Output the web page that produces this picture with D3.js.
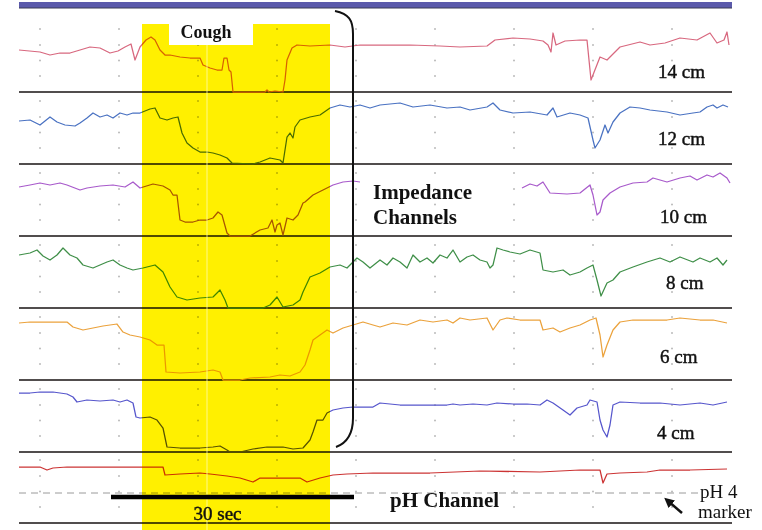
<!DOCTYPE html>
<html>
<head>
<meta charset="utf-8">
<script src="https://cdn.jsdelivr.net/npm/d3@7"></script>
<style>
  body { margin: 0; background: #fff; }
  text { font-family: "Liberation Serif", "Times New Roman", serif; fill: #111; }
</style>
</head>
<body>
<div id="chart"></div>
<script>
// samples (~8 Hz) vs signal level above channel floor
const ch14 = [[0,42],[21,40],[31,37],[41,39],[51,39],[61,42],[71,45],[81,44],[91,39],[99,41],[106,45],[112,48],[116,32],[121,45],[127,52],[132,55],[136,52],[141,42],[146,37],[151,37],[161,35],[171,34],[181,34],[184,27],[191,24],[198,22],[203,22],[205,34],[208,34],[210,22],[212,20],[214,0],[246,0],[248,2],[250,0],[256,1],[264,0],[266,12],[268,32],[273,44],[278,47],[291,46],[311,47],[326,45],[341,47],[361,47],[391,47],[421,46],[441,45],[468,46],[476,52],[494,54],[511,53],[524,51],[529,47],[532,40],[534,59],[537,47],[546,51],[561,52],[568,52],[572,12],[581,35],[588,32],[601,45],[621,50],[631,47],[646,49],[661,54],[678,52],[691,59],[698,49],[705,52],[708,60],[710,47]];
const ch12 = [[0,43],[11,44],[21,39],[31,47],[38,42],[46,39],[56,38],[61,41],[68,46],[74,51],[81,47],[88,49],[94,46],[101,51],[108,49],[114,51],[121,51],[131,55],[136,56],[141,46],[148,44],[154,46],[159,47],[163,31],[168,21],[174,16],[181,12],[188,12],[194,11],[201,9],[208,6],[213,1],[234,0],[241,2],[251,6],[261,4],[264,1],[268,27],[271,31],[274,26],[276,37],[281,44],[291,47],[301,49],[311,56],[321,59],[331,57],[341,59],[351,56],[361,59],[381,61],[394,57],[411,59],[428,56],[441,57],[451,54],[468,57],[474,61],[481,54],[494,51],[511,52],[528,49],[534,56],[538,47],[551,51],[561,49],[569,46],[574,24],[576,16],[581,24],[586,39],[589,31],[594,42],[601,51],[611,57],[621,56],[631,54],[648,52],[661,49],[674,51],[681,52],[688,57],[694,59],[698,56],[704,59],[709,57]];
const ch10 = [[0,49],[11,51],[21,53],[31,51],[41,53],[48,51],[61,46],[68,48],[81,50],[94,51],[106,49],[114,54],[121,48],[134,52],[144,50],[151,46],[154,41],[158,41],[161,16],[166,14],[174,14],[181,16],[188,16],[194,18],[199,24],[203,21],[208,3],[211,0],[231,0],[241,6],[249,8],[253,16],[256,4],[258,11],[261,13],[264,1],[268,18],[274,16],[279,21],[284,33],[286,34],[294,41],[304,46],[314,51],[324,54],[334,55],[341,54],[420,null],[503,48],[511,52],[518,50],[524,54],[531,43],[548,42],[561,43],[571,51],[574,41],[578,21],[581,24],[584,36],[591,43],[601,49],[614,53],[628,54],[634,58],[648,54],[661,58],[671,60],[678,56],[688,61],[694,59],[701,63],[708,58],[711,53]];
const ch8 = [[0,53],[11,55],[18,58],[24,52],[31,48],[38,53],[44,60],[51,53],[58,50],[64,43],[74,40],[81,43],[88,46],[94,48],[101,43],[108,40],[114,38],[124,40],[136,43],[144,36],[151,21],[158,11],[168,8],[181,10],[194,11],[201,18],[206,8],[209,0],[244,0],[251,3],[258,11],[264,1],[274,3],[281,8],[284,16],[291,31],[301,35],[311,41],[321,43],[328,40],[338,50],[344,46],[351,40],[361,48],[368,43],[374,50],[381,46],[388,40],[394,53],[401,46],[408,50],[414,45],[421,53],[428,50],[434,58],[441,46],[448,51],[454,53],[461,48],[468,46],[471,40],[474,43],[478,60],[484,58],[491,56],[501,54],[511,58],[521,55],[524,38],[534,36],[544,38],[551,33],[561,36],[568,40],[574,43],[578,28],[582,12],[588,25],[594,28],[601,36],[614,41],[628,46],[641,50],[651,46],[661,51],[674,46],[681,50],[691,46],[698,50],[704,43],[708,48]];
const ch6 = [[0,57],[11,58],[24,58],[38,58],[48,58],[54,53],[64,50],[74,52],[84,54],[98,56],[104,48],[111,45],[121,43],[131,40],[138,35],[145,35],[147,8],[161,7],[181,8],[194,10],[201,8],[204,0],[221,0],[231,2],[251,3],[261,5],[271,4],[281,8],[286,15],[291,30],[294,40],[301,45],[308,50],[314,47],[324,52],[334,55],[344,58],[354,55],[361,53],[374,57],[388,55],[401,60],[414,58],[428,60],[434,57],[441,62],[451,60],[468,62],[474,50],[481,60],[488,62],[501,60],[521,60],[524,50],[534,52],[541,48],[551,52],[561,55],[571,60],[577,62],[581,45],[584,23],[588,35],[594,50],[601,58],[614,60],[631,60],[648,60],[661,62],[681,60],[694,60],[708,57]];
const ch4 = [[0,59],[11,59],[21,60],[34,60],[48,58],[54,55],[58,50],[68,52],[81,51],[94,52],[101,50],[108,52],[114,49],[117,35],[121,34],[131,35],[138,32],[144,24],[148,5],[161,4],[181,4],[194,5],[201,6],[208,2],[211,0],[221,0],[234,3],[248,5],[264,5],[274,3],[284,4],[291,12],[294,20],[298,32],[304,32],[308,39],[314,42],[324,44],[334,45],[344,45],[354,45],[361,49],[381,47],[408,47],[428,47],[434,48],[441,47],[454,48],[468,47],[478,49],[494,48],[508,48],[521,47],[528,52],[534,49],[544,42],[551,37],[558,44],[568,47],[571,52],[578,50],[581,32],[584,22],[588,15],[591,27],[594,47],[601,50],[621,49],[641,49],[661,47],[681,49],[694,47],[708,50]];
const chPH = [[0,56],[21,56],[28,53],[34,55],[48,56],[81,56],[114,56],[144,56],[146,48],[161,49],[181,50],[191,49],[208,47],[221,45],[234,41],[241,45],[261,45],[281,45],[288,41],[301,45],[314,48],[328,49],[354,50],[361,50],[411,50],[461,52],[521,51],[561,53],[581,53],[584,40],[588,49],[601,50],[628,51],[641,53],[671,53],[708,54]];

const channelNames = ["14 cm", "12 cm", "10 cm", "8 cm", "6 cm", "4 cm", "pH"];
const channelColors = ["#d8687f", "#4a72c2", "#a85acb", "#3f8f48", "#eba23c", "#5656cc", "#cc3434"];
const channelSeries = [ch14, ch12, ch10, ch8, ch6, ch4, chPH];

const gridSamples = [21, 100, 179, 258, 337, 416, 495, 574, 653];
const gridLevels = [16, 31.5, 47, 63];
const coughWindow = [123, 311];
const coughLabelBox = [150, 234];
const cursorSample = 188;
const scaleBar = [92, 335];
const ph4Level = 30;
const ph4Span = [0, 680];

const W = 762, H = 530;
const laneFloor = [92, 164, 236, 308, 380, 452, 523];

const svg = d3.select("#chart").append("svg").attr("width", W).attr("height", H);

const x = d3.scaleLinear().domain([0, 713]).range([19, 732]);
const laneY = laneFloor.map((b) => d3.scaleLinear().domain([0, 72]).range([b, b - 72]));

// top bar
svg.append("rect").attr("x", x(0)).attr("y", 2).attr("width", x(713) - x(0)).attr("height", 6).attr("fill", "#5b5aab");
svg.append("line").attr("x1", x(0)).attr("x2", x(713)).attr("y1", 8).attr("y2", 8).attr("stroke", "#3a3a55").attr("stroke-width", 1);

// dotted grid
const dots = [];
laneY.forEach((ys) => gridSamples.forEach((g) => gridLevels.forEach((l) => dots.push([x(g), ys(l)]))));
svg.append("g").selectAll("rect").data(dots).join("rect")
  .attr("x", (d) => d[0] - 0.8).attr("y", (d) => d[1] - 0.8)
  .attr("width", 1.6).attr("height", 1.6).attr("fill", "#b0b0b0");

// pH 4 marker line
svg.append("line")
  .attr("x1", x(ph4Span[0])).attr("x2", x(ph4Span[1]))
  .attr("y1", laneY[6](ph4Level)).attr("y2", laneY[6](ph4Level))
  .attr("stroke", "#9a9a9a").attr("stroke-width", 1).attr("stroke-dasharray", "7,5");

// channel separators
svg.append("g").selectAll("line").data(laneFloor).join("line")
  .attr("x1", x(0)).attr("x2", x(713)).attr("y1", (d) => d).attr("y2", (d) => d)
  .attr("stroke", "#514d4d").attr("stroke-width", 1.8);

// traces
channelSeries.forEach((series, i) => {
  const line = d3.line()
    .defined((d) => d[1] !== null)
    .x((d) => x(d[0]))
    .y((d) => laneY[i](d[1]));
  svg.append("path").datum(series)
    .attr("d", line)
    .attr("fill", "none")
    .attr("stroke", channelColors[i])
    .attr("stroke-width", 1.25)
    .attr("stroke-linejoin", "round");
});

// cough highlight
svg.append("rect")
  .attr("x", x(coughWindow[0])).attr("y", 24)
  .attr("width", x(coughWindow[1]) - x(coughWindow[0])).attr("height", H - 24)
  .attr("fill", "#fff000").style("mix-blend-mode", "multiply");

svg.append("line")
  .attr("x1", x(cursorSample)).attr("x2", x(cursorSample)).attr("y1", 45).attr("y2", H)
  .attr("stroke", "#fffbb0").attr("stroke-width", 1).attr("opacity", 0.8);

svg.append("rect")
  .attr("x", x(coughLabelBox[0])).attr("y", 24)
  .attr("width", x(coughLabelBox[1]) - x(coughLabelBox[0])).attr("height", 21)
  .attr("fill", "#fff");
svg.append("text")
  .attr("x", (x(coughLabelBox[0]) + x(coughLabelBox[1])) / 2 - 5).attr("y", 38)
  .attr("text-anchor", "middle").attr("font-size", 18).attr("font-weight", "bold")
  .text("Cough");

// channel labels
const labelPos = [[658, 78], [658, 145], [660, 223], [666, 289], [660, 363], [657, 439]];
labelPos.forEach((p, i) => {
  svg.append("text").attr("x", p[0]).attr("y", p[1])
    .attr("font-size", 19).attr("stroke", "#111").attr("stroke-width", 0.45)
    .text(channelNames[i]);
});

// bracket around impedance channels
const bx = x(334);
svg.append("path")
  .attr("d", `M${bx - 18},11 C${bx - 4},14 ${bx},20 ${bx},34 L${bx},418 C${bx},434 ${bx - 6},443 ${bx - 17},447`)
  .attr("fill", "none").attr("stroke", "#111").attr("stroke-width", 2);

svg.append("text").attr("x", 373).attr("y", 199)
  .attr("font-size", 21).attr("font-weight", "bold").text("Impedance");
svg.append("text").attr("x", 373).attr("y", 224)
  .attr("font-size", 21).attr("font-weight", "bold").text("Channels");

svg.append("text").attr("x", 390).attr("y", 507)
  .attr("font-size", 21).attr("font-weight", "bold").text("pH Channel");

// 30 sec scale bar
svg.append("line")
  .attr("x1", x(scaleBar[0])).attr("x2", x(scaleBar[1])).attr("y1", 497).attr("y2", 497)
  .attr("stroke", "#000").attr("stroke-width", 4.5);
svg.append("text").attr("x", (x(scaleBar[0]) + x(scaleBar[1])) / 2 - 15).attr("y", 520)
  .attr("text-anchor", "middle").attr("font-size", 19)
  .attr("stroke", "#111").attr("stroke-width", 0.45).text("30 sec");

// pH 4 marker note
svg.append("defs").append("marker")
  .attr("id", "arrow").attr("viewBox", "0 0 10 10").attr("refX", 5).attr("refY", 5)
  .attr("markerWidth", 4).attr("markerHeight", 4).attr("orient", "auto-start-reverse")
  .append("path").attr("d", "M0,0 L10,5 L0,10 z").attr("fill", "#111");
svg.append("line")
  .attr("x1", 682).attr("y1", 513).attr("x2", 668).attr("y2", 501)
  .attr("stroke", "#111").attr("stroke-width", 2.5).attr("marker-end", "url(#arrow)");
svg.append("text").attr("x", 700).attr("y", 498).attr("font-size", 19).text("pH 4");
svg.append("text").attr("x", 698).attr("y", 518).attr("font-size", 19).text("marker");
</script>
</body>
</html>
